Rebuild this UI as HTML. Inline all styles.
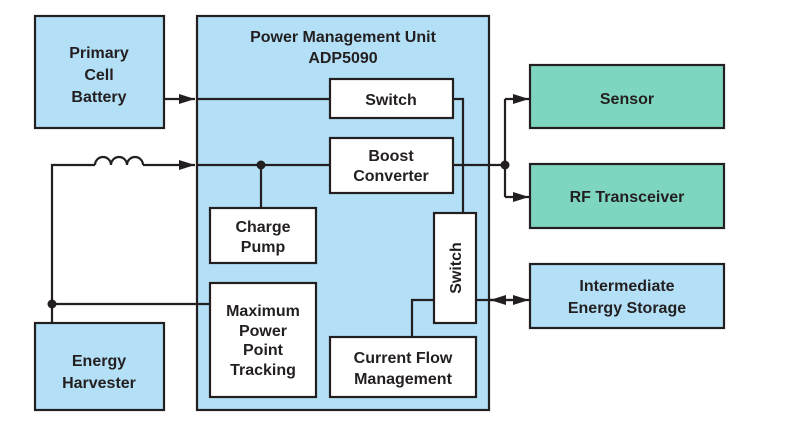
<!DOCTYPE html>
<html><head><meta charset="utf-8"><style>
body{margin:0;background:#fff}
</style></head><body>
<svg width="789" height="428" viewBox="0 0 789 428" xmlns="http://www.w3.org/2000/svg" font-family="Liberation Sans, sans-serif" font-weight="bold" font-size="16" fill="#231f20">
<defs><marker id="a" markerWidth="16" markerHeight="10" refX="16" refY="5" orient="auto" markerUnits="userSpaceOnUse"><path d="M0,0 L16,5 L0,10 Z" fill="#231f20"/></marker></defs>
<g stroke="#231f20" stroke-width="2.2">
<rect x="35" y="16" width="129" height="112" fill="#b3e0f7"/>
<rect x="197" y="16" width="292" height="394" fill="#b3e0f7"/>
<rect x="35" y="323" width="129" height="87" fill="#b3e0f7"/>
<rect x="530" y="65" width="194" height="63" fill="#7fd6c0"/>
<rect x="530" y="164" width="194" height="64" fill="#7fd6c0"/>
<rect x="530" y="264" width="194" height="64" fill="#b3e0f7"/>
<rect x="330" y="79" width="123" height="39" fill="#fff"/>
<rect x="330" y="138" width="123" height="55" fill="#fff"/>
<rect x="210" y="208" width="106" height="55" fill="#fff"/>
<rect x="210" y="283" width="106" height="114" fill="#fff"/>
<rect x="330" y="337" width="146" height="60" fill="#fff"/>
<rect x="434" y="213" width="42" height="110" fill="#fff"/>
<g fill="none">
<path d="M164 99 H195" marker-end="url(#a)"/>
<path d="M197 99 H330"/>
<path d="M52 323 V165 H95"/>
<path d="M95 165 a8 8 0 0 1 16 0 a8 8 0 0 1 16 0 a8 8 0 0 1 16 0"/>
<path d="M143 165 H195" marker-end="url(#a)"/>
<path d="M197 165 H330"/>
<path d="M261 165 V208"/>
<path d="M52 304 H210"/>
<path d="M453 99 H463 V213"/>
<path d="M453 165 H505"/>
<path d="M505 99 V197"/>
<path d="M505 99 H529" marker-end="url(#a)"/>
<path d="M505 197 H529" marker-end="url(#a)"/>
<path d="M476 300 H529" marker-end="url(#a)"/>
<path d="M512 300 H490" marker-end="url(#a)"/>
<path d="M412 337 V300 H434"/>
</g></g>
<circle cx="52" cy="304" r="4.5"/><circle cx="261" cy="165" r="4.5"/><circle cx="505" cy="165" r="4.5"/>
<g text-anchor="middle">
<text x="99" y="58">Primary</text><text x="99" y="80">Cell</text><text x="99" y="102">Battery</text>
<text x="343" y="42">Power Management Unit</text><text x="343" y="63">ADP5090</text>
<text x="391" y="105">Switch</text>
<text x="391" y="161">Boost</text><text x="391" y="181">Converter</text>
<text x="263" y="232">Charge</text><text x="263" y="252">Pump</text>
<text x="263" y="316">Maximum</text><text x="263" y="336">Power</text><text x="263" y="355">Point</text><text x="263" y="375">Tracking</text>
<text x="403" y="363">Current Flow</text><text x="403" y="384">Management</text>
<text x="0" y="0" transform="translate(461,268) rotate(-90)">Switch</text>
<text x="99" y="366">Energy</text><text x="99" y="388">Harvester</text>
<text x="627" y="104">Sensor</text>
<text x="627" y="202">RF Transceiver</text>
<text x="627" y="291">Intermediate</text><text x="627" y="313">Energy Storage</text>
</g>
</svg>
</body></html>
